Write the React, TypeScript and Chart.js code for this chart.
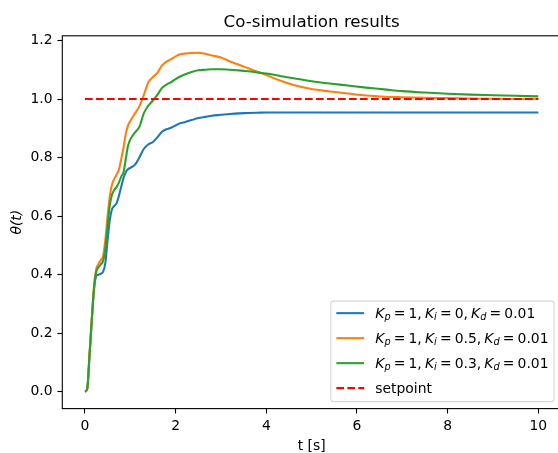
import React, { useEffect, useRef } from "react";
import { Chart, registerables } from "chart.js";

Chart.register(...registerables);

// ---- data ----
const tValues = [
  0, 0.05, 0.1, 0.15, 0.2, 0.25, 0.3, 0.35, 0.4, 0.45, 0.5, 0.55, 0.6, 0.65, 0.7, 0.75, 0.8, 0.85, 0.9, 0.95, 1.0,
  1.1, 1.2, 1.3, 1.4, 1.5, 1.6, 1.7, 1.8, 1.9, 2.0, 2.1, 2.2,
  2.35, 2.5, 2.65, 2.8,
  3.0, 3.2, 3.4, 3.6, 3.8, 4.0,
  4.3, 4.6,
  5.0, 5.4, 5.8, 6.2, 6.6, 7.0,
  7.5, 8.0, 8.5, 9.0, 9.5, 10.0,
];

const thetaKi0 = [
  0, 0.01, 0.12, 0.24, 0.35, 0.395, 0.4, 0.403, 0.41, 0.44, 0.52, 0.59, 0.625, 0.635, 0.645, 0.67, 0.7, 0.73, 0.75, 0.76, 0.765,
  0.775, 0.8, 0.83, 0.845, 0.853, 0.87, 0.888, 0.897, 0.902, 0.91, 0.917, 0.921,
  0.928, 0.935, 0.939, 0.943,
  0.946, 0.949, 0.951, 0.952, 0.953, 0.954,
  0.954, 0.954,
  0.954, 0.954, 0.954, 0.954, 0.954, 0.954,
  0.954, 0.954, 0.954, 0.954, 0.954, 0.954,
];

const thetaKi05 = [
  0, 0.01, 0.13, 0.25, 0.36, 0.42, 0.437, 0.45, 0.465, 0.52, 0.6, 0.67, 0.71, 0.728, 0.742, 0.76, 0.795, 0.835, 0.88, 0.91, 0.925,
  0.95, 0.975, 1.015, 1.057, 1.075, 1.09, 1.115, 1.128, 1.136, 1.146, 1.153, 1.155,
  1.157, 1.158, 1.155, 1.149,
  1.142, 1.128, 1.117, 1.105, 1.093, 1.082,
  1.063, 1.048,
  1.034, 1.026, 1.019, 1.012, 1.008, 1.006,
  1.004, 1.003, 1.002, 1.001, 1.0, 1.0,
];

const thetaKi03 = [
  0, 0.01, 0.125, 0.245, 0.355, 0.41, 0.425, 0.435, 0.447, 0.49, 0.57, 0.64, 0.675, 0.69, 0.7, 0.715, 0.735, 0.75, 0.795, 0.84, 0.862,
  0.885, 0.905, 0.952, 0.978, 0.995, 1.015, 1.038, 1.049, 1.058, 1.068, 1.077, 1.084,
  1.092, 1.098, 1.1, 1.102,
  1.102, 1.1, 1.098, 1.095, 1.091, 1.087,
  1.079, 1.071,
  1.061, 1.053, 1.046, 1.039, 1.033, 1.027,
  1.022, 1.018, 1.015, 1.013, 1.011, 1.009,
];

const setpointT = [0, 10];
const setpointY = [1, 1];

const xTickValues = [0, 2, 4, 6, 8, 10];
const yTickValues = [0, 0.2, 0.4, 0.6, 0.8, 1.0, 1.2];

const seriesLabels = [
  "K_p=1, K_i=0, K_d=0.01",
  "K_p=1, K_i=0.5, K_d=0.01",
  "K_p=1, K_i=0.3, K_d=0.01",
  "setpoint",
];
const seriesColors = ["#1f77b4", "#ff7f0e", "#2ca02c", "#ff0000"];

const TITLE = "Co-simulation results";
const X_LABEL = "t [s]";
const Y_LABEL = "θ(t)";

// ---- styling ----
const FONT = '"DejaVu Sans", sans-serif';
const FS = 13.9;
const LW = 2.08;
const CANVAS_W = 566;
const CANVAS_H = 453;

function toPoints(xs: number[], ys: number[]) {
  return xs.map((x, i) => ({ x, y: ys[i] }));
}

function drawMathLabel(ctx: CanvasRenderingContext2D, label: string, x0: number, y: number, fs: number, draw: boolean) {
  const reg = `${fs}px ${FONT}`;
  const ita = `italic ${fs}px ${FONT}`;
  const sub = `italic ${fs * 0.7}px ${FONT}`;
  const gap = 0.227 * fs;
  let x = x0;
  const put = (text: string, font: string, dy = 0) => {
    ctx.font = font;
    if (draw) ctx.fillText(text, x, y + dy);
    x += ctx.measureText(text).width;
  };
  if (!label.includes("=")) {
    put(label, reg);
    return x - x0;
  }
  const s = label.replace(/\s+/g, "");
  for (let i = 0; i < s.length; i++) {
    const c = s[i];
    if (/[A-Za-z]/.test(c)) {
      put(c, ita);
      if (s[i + 1] === "_") {
        put(s[i + 2], sub, 0.17 * fs);
        i += 2;
      }
    } else if (c === "=") {
      x += gap;
      put("=", reg);
      x += gap;
    } else if (c === ",") {
      put(",", reg);
      x += gap;
    } else {
      put(c, reg);
    }
  }
  return x - x0;
}

const mplPlugin = {
  id: "mplFrameLegend",
  afterDatasetsDraw(chart: any) {
    const { ctx, chartArea: a } = chart;
    ctx.save();
    ctx.strokeStyle = "#000";
    ctx.lineWidth = 1.1;
    ctx.strokeRect(a.left, a.top, a.right - a.left, a.bottom - a.top);
    ctx.restore();
  },
  afterDraw(chart: any) {
    const { ctx, chartArea: a } = chart;
    const items = chart.data.datasets.map((ds: any) => ({
      label: ds.label as string,
      color: ds.borderColor as string,
      dash: (ds.borderDash || []) as number[],
      width: ds.borderWidth as number,
    }));
    ctx.save();
    ctx.textAlign = "left";
    ctx.textBaseline = "alphabetic";
    const widths = items.map((it: any) => drawMathLabel(ctx, it.label, 0, 0, FS, false));
    const maxW = Math.max(...widths);
    const pad = 0.4 * FS;
    const handleLen = 2 * FS;
    const handlePad = 0.8 * FS;
    const axPad = 0.5 * FS;
    const rowH = 25;
    const boxW = pad + handleLen + handlePad + maxW + pad;
    const boxH = 12 + rowH * (items.length - 1) + 13.5;
    const right = a.right - axPad;
    const bottom = a.bottom - axPad;
    const left = right - boxW;
    const top = bottom - boxH;
    const r = 2.8;
    ctx.beginPath();
    ctx.moveTo(left + r, top);
    ctx.lineTo(right - r, top);
    ctx.quadraticCurveTo(right, top, right, top + r);
    ctx.lineTo(right, bottom - r);
    ctx.quadraticCurveTo(right, bottom, right - r, bottom);
    ctx.lineTo(left + r, bottom);
    ctx.quadraticCurveTo(left, bottom, left, bottom - r);
    ctx.lineTo(left, top + r);
    ctx.quadraticCurveTo(left, top, left + r, top);
    ctx.closePath();
    ctx.fillStyle = "rgba(255,255,255,0.8)";
    ctx.fill();
    ctx.strokeStyle = "rgba(204,204,204,0.8)";
    ctx.lineWidth = 1.1;
    ctx.stroke();
    items.forEach((it: any, i: number) => {
      const cy = top + 12 + i * rowH;
      ctx.beginPath();
      ctx.setLineDash(it.dash);
      ctx.strokeStyle = it.color;
      ctx.lineWidth = it.width;
      ctx.moveTo(left + pad, cy);
      ctx.lineTo(left + pad + handleLen, cy);
      ctx.stroke();
      ctx.setLineDash([]);
      ctx.fillStyle = "#000";
      drawMathLabel(ctx, it.label, left + pad + handleLen + handlePad, cy + 4.7, FS, true);
    });
    ctx.restore();
  },
};

export default function App() {
  const ref = useRef<HTMLCanvasElement>(null);

  useEffect(() => {
    document.body.style.overflow = "hidden";
    document.documentElement.style.overflow = "hidden";
    const curves = [thetaKi0, thetaKi05, thetaKi03];
    const datasets: any[] = curves.map((ys, i) => ({
      label: seriesLabels[i],
      data: toPoints(tValues, ys),
      borderColor: seriesColors[i],
      backgroundColor: seriesColors[i],
      borderWidth: LW,
      pointRadius: 0,
      fill: false,
      cubicInterpolationMode: "monotone",
      borderJoinStyle: "round",
      order: 4 - i,
    }));
    datasets.push({
      label: seriesLabels[3],
      data: toPoints(setpointT, setpointY),
      borderColor: seriesColors[3],
      backgroundColor: seriesColors[3],
      borderWidth: LW,
      borderDash: [7.7, 3.3],
      pointRadius: 0,
      fill: false,
      order: 1,
    });

    const tickFont = { family: FONT, size: FS, weight: "normal" as const, lineHeight: 1.2 };

    const chart = new Chart(ref.current!, {
      type: "line",
      data: { datasets },
      plugins: [mplPlugin],
      options: {
        animation: false,
        responsive: false,
        devicePixelRatio: 1,
        events: [],
        layout: { padding: { left: 0, right: 5, top: 0, bottom: 0 } },
        plugins: {
          legend: { display: false },
          tooltip: { enabled: false },
          title: {
            display: true,
            text: TITLE,
            fullSize: false,
            color: "#000",
            font: { family: FONT, size: 16.67, weight: "normal", lineHeight: 1.2 },
            padding: { top: 12.2, bottom: 3.6 },
          },
        },
        scales: {
          x: {
            type: "linear",
            min: -0.5,
            max: 10.5,
            afterBuildTicks: (s: any) => {
              s.ticks = xTickValues.map((v) => ({ value: v }));
            },
            afterFit: (s: any) => {
              s.height = CANVAS_H - 408.6;
            },
            ticks: {
              color: "#000",
              font: tickFont,
              padding: 4.9,
              maxRotation: 0,
              autoSkip: false,
              callback: (v: any) => String(v),
            },
            grid: {
              drawOnChartArea: false,
              drawTicks: true,
              tickLength: 4.9,
              tickWidth: 1.1,
              tickColor: "#000",
            },
            border: { display: false },
            title: {
              display: true,
              text: X_LABEL,
              color: "#000",
              font: { family: FONT, size: FS, weight: "normal", lineHeight: 1.0 },
              padding: { top: 0, bottom: 0 },
            },
          },
          y: {
            type: "linear",
            min: -0.0577,
            max: 1.216,
            afterBuildTicks: (s: any) => {
              s.ticks = yTickValues.map((v) => ({ value: v }));
            },
            afterFit: (s: any) => {
              s.width = 62.3;
            },
            ticks: {
              color: "#000",
              font: tickFont,
              padding: 4.9,
              autoSkip: false,
              callback: (v: any) => Number(v).toFixed(1),
            },
            grid: {
              drawOnChartArea: false,
              drawTicks: true,
              tickLength: 4.9,
              tickWidth: 1.1,
              tickColor: "#000",
            },
            border: { display: false },
            title: {
              display: true,
              text: Y_LABEL,
              color: "#000",
              font: { family: FONT, size: FS, style: "italic", weight: "normal", lineHeight: 1.2 },
              padding: { top: 9, bottom: 0 },
            },
          },
        },
      } as any,
    });
    return () => chart.destroy();
  }, []);

  return (
    <canvas
      ref={ref}
      width={CANVAS_W}
      height={CANVAS_H}
      style={{ position: "fixed", left: 0, top: 0, width: CANVAS_W, height: CANVAS_H, display: "block" }}
    />
  );
}
